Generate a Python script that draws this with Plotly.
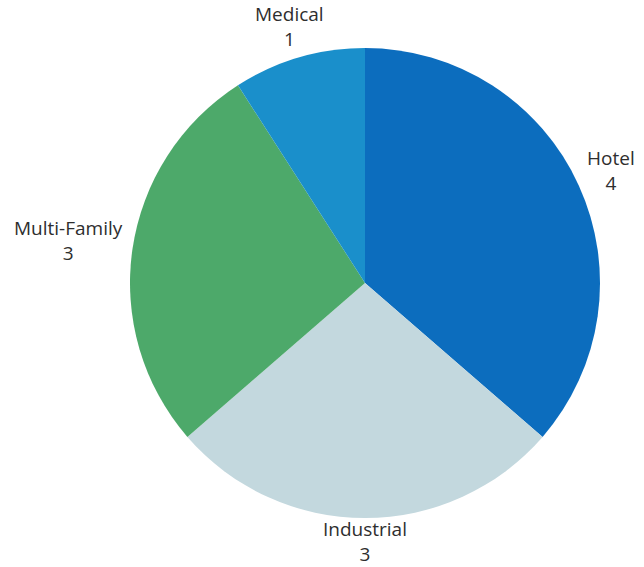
import math
import plotly.graph_objects as go

categories = ["Hotel", "Industrial", "Multi-Family", "Medical"]
values = [4, 3, 3, 1]
colors = ["#0C6DBE", "#C3D8DE", "#4DA96A", "#1A8FCB"]

W, H = 644, 567
cx, cy, r = 365, 283, 235
FONT = 19
CHAR_W = 9.3
HALF_H = 20
GAP = 6
BOX_HALF = 26  # keep label boxes inside the figure

fig = go.Figure(go.Pie(
    labels=categories,
    values=values,
    sort=False,
    direction="clockwise",
    rotation=0,
    marker=dict(colors=colors, line=dict(width=0)),
    textinfo="none",
    hoverinfo="label+value",
    showlegend=False,
    domain=dict(x=[(cx - r) / W, (cx + r) / W], y=[1 - (cy + r) / H, 1 - (cy - r) / H]),
))

total = sum(values)
cum = 0
for lab, v in zip(categories, values):
    mid = (cum + v / 2) / total * 2 * math.pi
    cum += v
    s, c = math.sin(mid), math.cos(mid)
    hw = len(lab) * CHAR_W / 2
    d = r + GAP + hw * abs(s) + HALF_H * abs(c)
    px = cx + d * s
    py = cy - d * c
    py = min(max(py, BOX_HALF), H - BOX_HALF)
    fig.add_annotation(
        x=px / W, y=1 - py / H, xref="paper", yref="paper",
        text=f"{lab}<br>{v}", showarrow=False,
        xanchor="center", yanchor="middle", align="center", borderpad=0,
        font=dict(family="Open Sans", size=FONT, color="#2E2E2E"),
    )

fig.update_layout(
    width=W, height=H,
    margin=dict(l=0, r=0, t=0, b=0),
    paper_bgcolor="white",
)
fig.write_html(
    "out.html",
    config={"displayModeBar": False},
    post_script="document.body.style.margin='0';document.body.style.overflow='hidden';",
)
